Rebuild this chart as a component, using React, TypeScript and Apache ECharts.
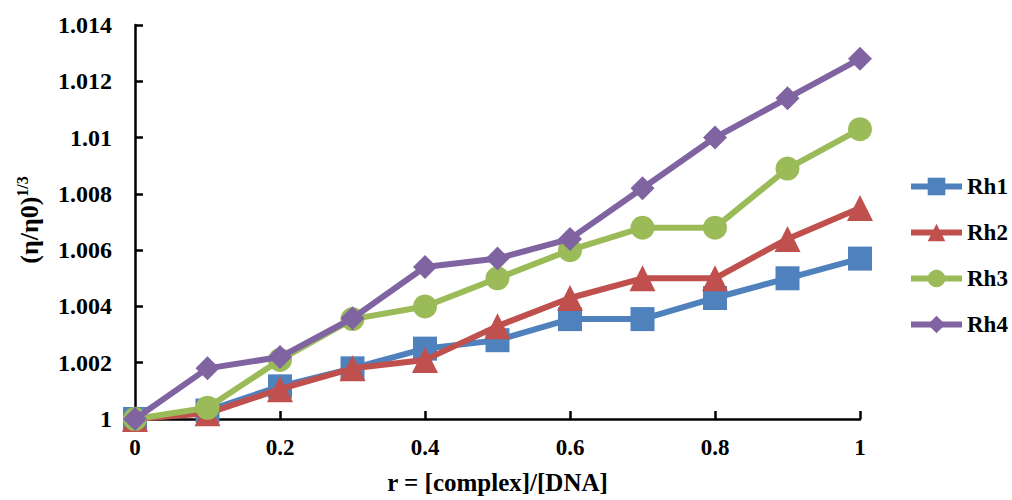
import React, { useEffect, useRef } from "react";
import * as echarts from "echarts";

const xValues = [0, 0.1, 0.2, 0.3, 0.4, 0.5, 0.6, 0.7, 0.8, 0.9, 1];
const rh1 = [1, 1.0003, 1.00116, 1.0018, 1.0025, 1.0028, 1.00355, 1.00355, 1.0043, 1.005, 1.0057];
const rh2 = [1, 1.0002, 1.00106, 1.0018, 1.0021, 1.0033, 1.0043, 1.005, 1.005, 1.0064, 1.0075];
const rh3 = [1, 1.0004, 1.0021, 1.00355, 1.004, 1.005, 1.006, 1.0068, 1.0068, 1.0089, 1.0103];
const rh4 = [1, 1.0018, 1.0022, 1.00358, 1.0054, 1.0057, 1.0064, 1.0082, 1.01, 1.0114, 1.0128];
const seriesNames = ["Rh1", "Rh2", "Rh3", "Rh4"];
const seriesColors = ["#4F81BD", "#C0504D", "#9BBB59", "#8064A2"];
const seriesSymbols = ["rect", "triangle", "circle", "diamond"];
const xAxisTitle = "r = [complex]/[DNA]";
const yAxisTitle = "{a|(η/η0)}{b|1/3}";

const FONT = "'Liberation Serif', 'Times New Roman', serif";

export default function App() {
  const ref = useRef<HTMLDivElement>(null);
  useEffect(() => {
    document.body.style.margin = "0";
    const chart = echarts.init(ref.current!, null, { renderer: "svg" });
    const all = [rh1, rh2, rh3, rh4];
    chart.setOption({
      animation: false,
      backgroundColor: "#ffffff",
      grid: { left: 135, right: 152, top: 25, bottom: 77 },
      legend: {
        orient: "vertical",
        left: 903,
        top: 170,
        padding: 5,
        itemWidth: 51,
        itemHeight: 22,
        itemGap: 23,
        lineStyle: { width: 6 },
        textStyle: { fontFamily: FONT, fontWeight: "bold", fontSize: 23, color: "#000" },
        data: seriesNames,
      },
      graphic: [
        {
          type: "text",
          x: 29,
          y: 220,
          rotation: Math.PI / 2,
          style: {
            text: yAxisTitle,
            align: "center",
            verticalAlign: "middle",
            rich: {
              a: { fontFamily: FONT, fontWeight: "bold", fontSize: 26, fill: "#000" },
              b: { fontFamily: FONT, fontWeight: "bold", fontSize: 16, fill: "#000", verticalAlign: "top", padding: [0, 0, 14, 0] },
            },
          },
        },
      ],
      xAxis: {
        type: "value",
        min: 0,
        max: 1,
        interval: 0.2,
        name: xAxisTitle,
        nameLocation: "middle",
        nameGap: 51,
        nameTextStyle: { fontFamily: FONT, fontWeight: "bold", fontSize: 25, color: "#000" },
        axisLine: { lineStyle: { color: "#000", width: 2.5 } },
        axisTick: { inside: true, length: 8, lineStyle: { color: "#000", width: 2.5 } },
        axisLabel: {
          fontFamily: FONT, fontWeight: "bold", fontSize: 23, color: "#000", margin: 17,
          formatter: (v: number) => String(parseFloat(v.toFixed(1))),
        },
        splitLine: { show: false },
      },
      yAxis: {
        type: "value",
        min: 1,
        max: 1.014,
        interval: 0.002,
        axisLine: { show: true, lineStyle: { color: "#000", width: 2.5 } },
        axisTick: { show: true, inside: true, length: 8, lineStyle: { color: "#000", width: 2.5 } },
        axisLabel: {
          fontFamily: FONT, fontWeight: "bold", fontSize: 24, color: "#000", margin: 23,
          formatter: (v: number) => String(parseFloat(v.toFixed(3))),
        },
        splitLine: { show: false },
      },
      series: all.map((vals, i) => ({
        name: seriesNames[i],
        type: "line",
        data: xValues.map((x, j) => [x, vals[j]]),
        symbol: seriesSymbols[i],
        symbolSize: i === 1 ? 26 : 24,
        lineStyle: { color: seriesColors[i], width: 6 },
        itemStyle: { color: seriesColors[i] },
        z: 2 + i,
      })),
    });
    return () => chart.dispose();
  }, []);
  return <div ref={ref} style={{ width: 1012, height: 500 }} />;
}
